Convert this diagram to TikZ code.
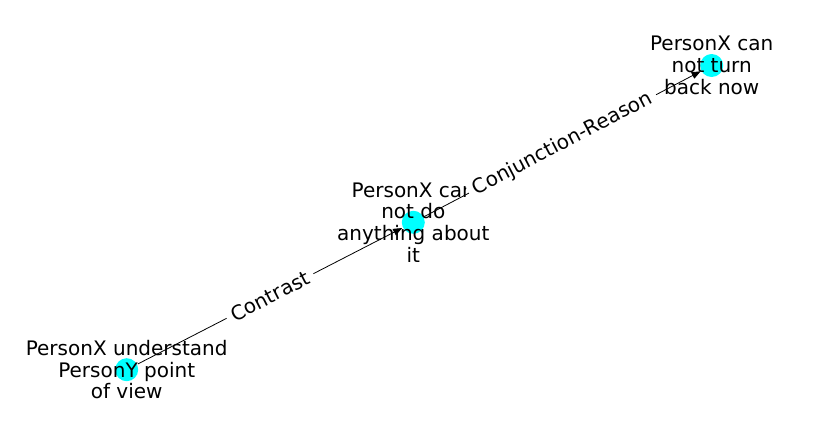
\documentclass[tikz,border=0pt]{standalone}
\usepackage{fontspec}
\setmainfont{DejaVu Sans}
\usetikzlibrary{arrows.meta, positioning}
\definecolor{nodecyan}{RGB}{0,255,255}

\begin{document}
\begin{tikzpicture}[x=1pt, y=-1pt,
    vertex/.style={circle, fill=nodecyan, minimum size=23pt, inner sep=0pt, outer sep=1pt},
    vlabel/.style={align=center, inner sep=0pt, font=\fontsize{20}{21.7}\selectfont},
    elabel/.style={sloped, fill=white, rounded corners=3pt, inner xsep=6pt, inner ysep=0pt, font=\fontsize{20}{21.7}\selectfont},
    arrow/.style={line width=0.8pt, -{Triangle[length=9pt,width=7pt]}}]
    \useasboundingbox (0,0) rectangle (837,434);

    \node [vertex] (understand) at (126.7,369.7) {};
    \node [vertex] (cannotdo) at (413.3,222.3) {};
    \node [vertex] (turnback) at (711.7,65.5) {};

    \draw [arrow] (understand) -- (cannotdo);
    \draw [arrow] (cannotdo) -- (turnback);

    \node [vlabel] (understand-text) at (understand.center) {PersonX understand\\PersonY point\\of view};
    \node [vlabel] (cannotdo-text) at (cannotdo.center) {PersonX can\\not do\\anything about\\it};
    \node [vlabel] (turnback-text) at (turnback.center) {PersonX can\\not turn\\back now};

    \path (understand.center) -- node [elabel] (contrast) {Contrast} (cannotdo.center);
    \path (cannotdo.center) -- node [elabel] (reason) {Conjunction-Reason} (turnback.center);
\end{tikzpicture}
\end{document}
